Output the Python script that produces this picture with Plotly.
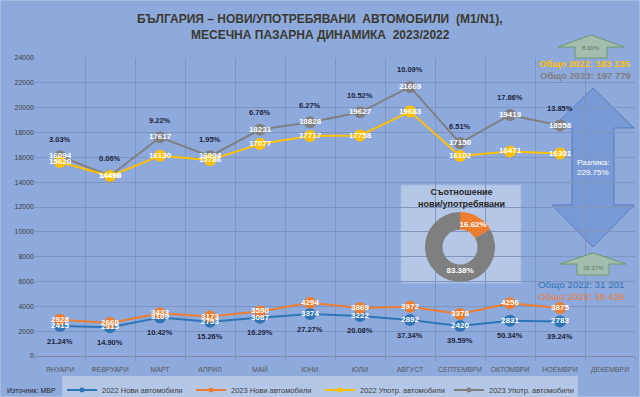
import plotly.graph_objects as go

# ---------------- data ----------------
months = ["ЯНУАРИ", "ФЕВРУАРИ", "МАРТ", "АПРИЛ", "МАЙ", "ЮНИ", "ЮЛИ",
          "АВГУСТ", "СЕПТЕМВРИ", "ОКТОМВРИ", "НОЕМВРИ", "ДЕКЕМВРИ"]
new_2022 = [2415, 2315, 3109, 2753, 3087, 3374, 3222, 2892, 2420, 2831, 2783]
new_2023 = [2928, 2660, 3433, 3173, 3590, 4294, 3869, 3972, 3378, 4256, 3875]
used_2022 = [15620, 14490, 16130, 15786, 17077, 17717, 17758, 19683, 16102, 16471, 16301]
used_2023 = [16094, 14498, 17617, 16094, 18231, 18828, 19627, 21669, 17150, 19413, 18558]
diff_label = "229.75%"

names = ["2022 Нови автомобили", "2023 Нови автомобили",
         "2022 Употр. автомобили", "2023 Употр. автомобили"]
colors = {"n22": "#2E75B6", "n23": "#ED7D31", "u22": "#FFC000", "u23": "#7F7F7F"}

FONT = "Arial, Liberation Sans, sans-serif"
BG = "#8EA9DB"
GRID = "#7F95C0"

# plot-area pixel frame (for decorations only)
W, H = 640, 397
L, R, T, B = 35, 635, 58, 356


def px(x):
    return (x - L) / (R - L)


def py(y):
    return (B - y) / (B - T)


def fmt_total(v):
    return f"{v:,}".replace(",", " ")


x = months[:len(new_2022)]
fig = go.Figure()

# lines + markers (no legend)
for key, vals in [("u23", used_2023), ("u22", used_2022), ("n22", new_2022), ("n23", new_2023)]:
    fig.add_trace(go.Scatter(
        x=x, y=vals, mode="lines+markers", showlegend=False, hoverinfo="skip",
        line=dict(color=colors[key], width=2),
        marker=dict(color=colors[key], size=12)))

# data labels
for vals in [used_2023, used_2022, new_2022, new_2023]:
    fig.add_trace(go.Scatter(
        x=x, y=vals, mode="text", text=[str(v) for v in vals],
        textposition="middle center", showlegend=False, hoverinfo="skip",
        textfont=dict(color="white", size=8, family=FONT, weight="bold")))

# legend-only traces
for name, key in zip(names, ["n22", "n23", "u22", "u23"]):
    fig.add_trace(go.Scatter(
        x=[None], y=[None], mode="lines+markers", name=name,
        line=dict(color=colors[key], width=2),
        marker=dict(color=colors[key], size=5)))

# donut
tot_n23 = sum(new_2023)
tot_u23 = sum(used_2023)
fig.add_trace(go.Pie(
    labels=["нови", "употребявани"], values=[tot_n23, tot_u23],
    marker=dict(colors=[colors["n23"], colors["u23"]]),
    hole=0.5, sort=False, direction="clockwise", rotation=0,
    texttemplate="%{percent:.2%}", textposition="inside",
    insidetextorientation="horizontal",
    textfont=dict(color="white", size=8, family=FONT, weight="bold"),
    showlegend=False, hoverinfo="skip",
    domain=dict(x=[px(425), px(495)], y=[py(282), py(212)])))

annotations = []
# percentage changes
for i in range(len(x)):
    p_used = (used_2023[i] / used_2022[i] - 1) * 100
    p_new = (new_2023[i] / new_2022[i] - 1) * 100
    annotations.append(dict(x=x[i], y=used_2023[i], xref="x", yref="y", yshift=17,
                            text=f"{p_used:.2f}%", showarrow=False,
                            font=dict(size=7.5, color="#1C2540", family=FONT, weight="bold")))
    annotations.append(dict(x=x[i], y=new_2022[i], xref="x", yref="y", yshift=-15,
                            text=f"{p_new:.2f}%", showarrow=False,
                            font=dict(size=7.5, color="#1C2540", family=FONT, weight="bold")))

tot_u22 = sum(used_2022)
tot_n22 = sum(new_2022)
p_used_tot = (tot_u23 / tot_u22 - 1) * 100
p_new_tot = (tot_n23 / tot_n22 - 1) * 100


def ann(xp, yp, text, size, color, bold=False, xanchor="center"):
    annotations.append(dict(x=px(xp), y=py(yp), xref="paper", yref="paper",
                            text=text, showarrow=False, xanchor=xanchor, yanchor="middle",
                            font=dict(size=size, color=color, family=FONT,
                                      weight="bold" if bold else "normal")))


ann(320, 19, "БЪЛГАРИЯ – НОВИ/УПОТРЕБЯВАНИ  АВТОМОБИЛИ  (M1/N1),", 12, "#3A3A30", True)
ann(320, 35, "МЕСЕЧНА ПАЗАРНА ДИНАМИКА  2023/2022", 12, "#3A3A30", True)
ann(633, 64, f"Общо 2022: {fmt_total(tot_u22)}", 9.5, colors["u22"], True, "right")
ann(633, 75, f"Общо 2023: {fmt_total(tot_u23)}", 9.5, "#808080", True, "right")
ann(627, 284, f"Общо 2022: {fmt_total(tot_n22)}", 9.8, colors["n22"], False, "right")
ann(627, 296, f"Общо 2023: {fmt_total(tot_n23)}", 9.8, colors["n23"], False, "right")
ann(591, 48, f"{p_used_tot:.2f}%", 6, "#567A56")
ann(593, 268, f"{p_new_tot:.2f}%", 6, "#567A56")
ann(593, 162, "Разлика:", 8, "white")
ann(593, 172, diff_label, 8, "white")
ann(461, 198, "Съотношение<br>нови/употребявани", 9, "#262626", True)
ann(5, 390, "Източник: МВР", 7, "#262626", False, "left")


def up_arrow(cx, top, head_base, bottom, hw, sw):
    pts = [(cx, top), (cx + hw, head_base), (cx + sw, head_base), (cx + sw, bottom),
           (cx - sw, bottom), (cx - sw, head_base), (cx - hw, head_base)]
    return "M " + " L ".join(f"{px(a):.5f},{py(b):.5f}" for a, b in pts) + " Z"


def double_arrow(cx, top, hb1, hb2, bottom, hw, sw):
    pts = [(cx, top), (cx + hw, hb1), (cx + sw, hb1), (cx + sw, hb2), (cx + hw, hb2),
           (cx, bottom), (cx - hw, hb2), (cx - sw, hb2), (cx - sw, hb1), (cx - hw, hb1)]
    return "M " + " L ".join(f"{px(a):.5f},{py(b):.5f}" for a, b in pts) + " Z"


shapes = [
    dict(type="rect", xref="paper", yref="paper", x0=px(0.5), x1=px(639.5),
         y0=py(396.5), y1=py(0.5), line=dict(color="#A8BCE3", width=1), layer="below"),
    dict(type="rect", xref="paper", yref="paper", x0=px(401), x1=px(521),
         y0=py(283), y1=py(185), fillcolor="#B4C7E7",
         line=dict(color="#A5B9DF", width=1), layer="between"),
    dict(type="path", xref="paper", yref="paper",
         path=double_arrow(593, 88, 128, 205, 247, 41, 21),
         fillcolor="rgba(90,135,205,0.40)", line=dict(color="rgba(70,110,180,0.7)", width=1),
         layer="between"),
    dict(type="path", xref="paper", yref="paper",
         path=up_arrow(591, 35, 47, 58, 33, 16),
         fillcolor="#A3BDAE", line=dict(color="#6E9A6E", width=1), layer="above"),
    dict(type="path", xref="paper", yref="paper",
         path=up_arrow(593, 253, 264, 275, 33, 16),
         fillcolor="#A3BDAE", line=dict(color="#6E9A6E", width=1), layer="above"),
]

fig.update_layout(
    width=W, height=H,
    margin=dict(l=L, r=W - R, t=T, b=H - B, autoexpand=False),
    paper_bgcolor=BG, plot_bgcolor=BG,
    font=dict(family=FONT, color="#404040"),
    annotations=annotations, shapes=shapes,
    uniformtext=dict(minsize=8, mode="show"),
    legend=dict(orientation="h", x=px(320), xanchor="center", y=py(390), yanchor="middle",
                bgcolor="#B4C7E7", font=dict(size=7.5, color="#404040", family=FONT),
                itemwidth=30, entrywidth=84, tracegroupgap=0),
    xaxis=dict(type="category", categoryorder="array", categoryarray=months,
               range=[-0.5, len(months) - 0.5], tickson="boundaries",
               showgrid=True, gridcolor=GRID, gridwidth=1, tickangle=0,
               ticks="outside", ticklen=4, tickcolor=GRID, ticklabelstandoff=8,
               tickfont=dict(size=7, color="#595959"), showline=False, fixedrange=True),
    yaxis=dict(range=[0, 24000], dtick=2000, tickformat="d",
               showgrid=True, gridcolor=GRID, gridwidth=1,
               zeroline=True, zerolinecolor="#7F8AA5", zerolinewidth=1,
               tickfont=dict(size=7, color="#404040"), showline=False, fixedrange=True),
)

fig.write_html("out.html", config={"displayModeBar": False},
               post_script="document.body.style.margin='0';")
